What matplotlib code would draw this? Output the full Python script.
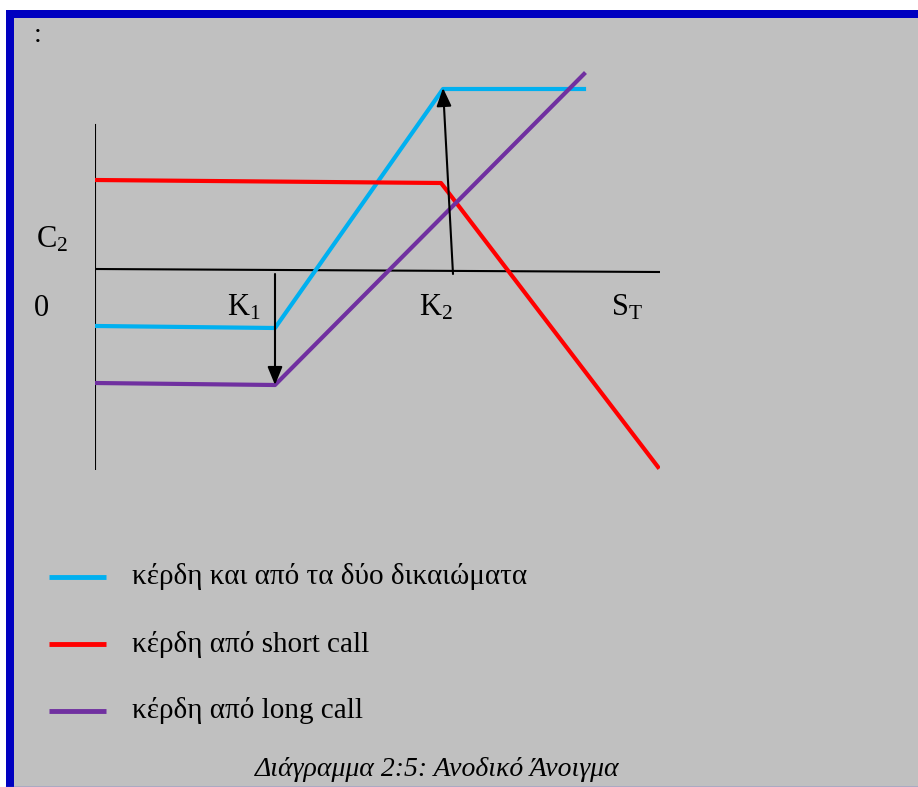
import matplotlib
matplotlib.use("Agg")
import matplotlib.pyplot as plt
from matplotlib.patches import Rectangle

plt.rcParams["font.family"] = ["Liberation Serif", "DejaVu Serif"]
plt.rcParams["mathtext.fontset"] = "custom"
plt.rcParams["mathtext.rm"] = "Liberation Serif"
plt.rcParams["mathtext.it"] = "Liberation Serif:italic"

# payoff lines (S_T on x, profit on y, arbitrary units)
both_s = [2, 180, 348, 489]
both_p = [-57, -59, 180, 180]
short_s = [0, 346, 353, 563]
short_p = [89, 86, 77, -198]
long_s = [0, 180, 489]
long_p = [-114, -116, 195]

K1 = 180
K2 = 358
legend_labels = [
    "κέρδη και από τα δύο δικαιώματα",
    "κέρδη από short call",
    "κέρδη από long call",
]
colors = ["#00B0F0", "#FF0000", "#7030A0"]
caption = "Διάγραμμα 2:5: Ανοδικό Άνοιγμα"

fig = plt.figure(figsize=(9.18, 7.87), dpi=100)
bg = fig.add_axes([0, 0, 1, 1])
bg.set_xlim(0, 918)
bg.set_ylim(787, 0)
bg.axis("off")

# frame
bg.add_patch(Rectangle((6, 10), 920, 790, facecolor="#C0C0C0", edgecolor="none"))
bg.add_patch(Rectangle((6, 10), 8, 790, facecolor="#0000C0", edgecolor="none", zorder=5))
bg.add_patch(Rectangle((6, 10), 920, 8, facecolor="#0000C0", edgecolor="none", zorder=5))
bg.text(38, 36, ":", fontsize=20, ha="center", va="center")

# payoff chart
ax = fig.add_axes([95 / 918, (787 - 470) / 787, 565 / 918, 410 / 787])
ax.set_xlim(0, 565)
ax.set_ylim(-201, 209)
ax.axis("off")

ax.plot([0, 0], [144, -201], color="black", lw=1.5)
ax.plot([0, 565], [0, -3], color="black", lw=1.5)

ax.plot(both_s, both_p, color=colors[0], lw=3)
ax.plot(short_s, short_p, color=colors[1], lw=3)
ax.plot(long_s, long_p, color=colors[2], lw=3)

arrow = dict(arrowstyle="-|>,head_length=1.1,head_width=0.45", color="black", lw=1.5,
             shrinkA=0, shrinkB=0)
ax.annotate("", xy=(K1, -116), xytext=(K1, -5), arrowprops=arrow)
ax.annotate("", xy=(348, 181), xytext=(K2, -5), arrowprops=arrow)

fs = 22
bg.text(36, 240, r"$\mathrm{C}_2$", fontsize=fs, va="center")
bg.text(34, 308, "0", fontsize=fs, va="center")
bg.text(227, 308, r"$\mathrm{K}_1$", fontsize=fs, va="center")
bg.text(419, 308, r"$\mathrm{K}_2$", fontsize=fs, va="center")
bg.text(611, 308, r"$\mathrm{S}_\mathrm{T}$", fontsize=fs, va="center")

# legend
for i, (lab, c) in enumerate(zip(legend_labels, colors)):
    y = 577 + i * 67
    bg.plot([49, 106], [y, y], color=c, lw=3.5, solid_capstyle="butt")
    bg.text(132, y, lab, fontsize=21, va="center")

bg.text(437, 770, caption, fontsize=20, style="italic", ha="center", va="center")
bg.plot([6, 918], [786.5, 786.5], color="#5050D0", lw=1, zorder=6)

fig.savefig("out.png", dpi=100)
